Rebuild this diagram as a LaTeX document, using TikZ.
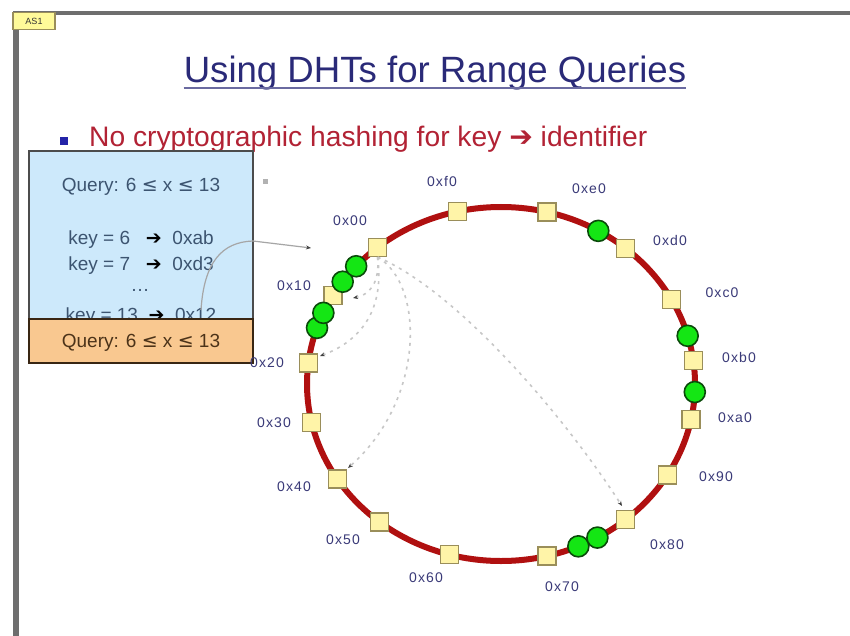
\documentclass[tikz,border=0pt]{standalone}
\usepackage{fontspec}
\setmainfont{Liberation Sans}
\newfontfamily\sym{DejaVu Sans}
\usetikzlibrary{arrows.meta,calc}
\definecolor{ringred}{HTML}{B01010}
\definecolor{sqfill}{HTML}{FFF4A8}
\definecolor{sqdraw}{HTML}{9A8E5A}
\definecolor{grfill}{HTML}{14E614}
\definecolor{grdraw}{HTML}{0A4A0A}
\definecolor{titlecol}{HTML}{2A2A78}
\definecolor{bulletred}{HTML}{B22234}
\definecolor{bulletblue}{HTML}{2424A8}
\definecolor{boxblue}{HTML}{CDE9FB}
\definecolor{boxorange}{HTML}{F9C890}
\definecolor{boxtext}{HTML}{3C5470}
\definecolor{lblcol}{HTML}{3A3A78}
\definecolor{framegray}{HTML}{6E6E6E}
\tikzset{
  sq/.style={draw=sqdraw,fill=sqfill,line width=1.4pt,minimum size=18pt,inner sep=0pt},
  gr/.style={circle,draw=grdraw,fill=grfill,line width=1.6pt,minimum size=21pt,inner sep=0pt},
  lbl/.style={text=lblcol,font=\fontsize{14}{14}\selectfont\addfontfeature{LetterSpace=8}},
  ring/.style={draw=ringred,line width=6pt},
  dotln/.style={draw=black!22,line width=1.6pt,dash pattern=on 3pt off 5pt,-{Stealth[length=5pt,width=4pt,color=black!75]}},
  boxln/.style={draw=black!35,line width=1.2pt,-{Stealth[length=5pt,width=4pt,color=black!75]}},
  btxt/.style={text=boxtext,font=\fontsize{19}{19}\selectfont,inner sep=0pt,anchor=base}
}
\begin{document}
\begin{tikzpicture}[x=1pt,y=-1pt]
\useasboundingbox (0,0) rectangle (850,636);
\fill[white] (0,0) rectangle (850,636);
% frame
\draw[framegray,line width=4pt] (15,13) -- (850,13);
\draw[framegray,line width=6pt] (16,11) -- (16,636);
\node[draw=sqdraw,fill=yellow!40,line width=1.2pt,minimum width=42pt,minimum height=17pt,inner sep=0pt,font=\fontsize{9}{9}\selectfont,text=black!80] (tag) at (34,21) {AS1};
% title
\node[text=titlecol,font=\fontsize{36.6}{36.6}\selectfont,inner sep=0pt,anchor=base] (title) at (435,83) {Using DHTs for Range Queries};
\draw[titlecol!70,line width=2pt] ($(title.base west)+(0,5)$) -- ($(title.base east)+(0,5)$);
% bullet
\node[fill=bulletblue,minimum size=8pt,inner sep=0pt] (bul) at (64,141) {};
\node[text=bulletred,font=\fontsize{28.2}{28.2}\selectfont,inner sep=0pt,anchor=base west] (btext) at (89,147) {No cryptographic hashing for key {\sym\bfseries ➔} identifier};
% ring
\draw[ring] (501,384) ellipse [x radius=194, y radius=177];
% dotted lookups
\coordinate (c10) at (353,298);
\coordinate (c20) at (320,356);
\coordinate (c40) at (348,468);
\coordinate (c80) at (622,506);
% nodes
\foreach \n/\a in {00/129.5,f0/103,e0/76.3,d0/50,c0/28.5,b0/7.7,a0/-11.6,90/-31,80/-50,70/-76.3,60/-105.4,50/231.3,40/212.5,30/192.5,20/173.2,10/150}
  \node[sq] (n\n) at ({501+194*cos(\a)},{384-177*sin(\a)}) {};
\draw[dotln] (n00.south) .. controls (380,285) and (368,295) .. (c10);
\draw[dotln] (n00.south) .. controls (386,320) and (350,345) .. (c20);
\draw[dotln] (n00.south) .. controls (425,285) and (425,400) .. (c40);
\draw[dotln] (n00.south) .. controls (455,290) and (560,410) .. (c80);
% green peers
\foreach \i/\a in {2/144.7,1/138.3,4/161.5,3/156.3,5/59.9,6/15.8,7/-2.6,8/-66.5,9/-60.2}
  \node[gr] (g\i) at ({501+194*cos(\a)},{384-177*sin(\a)}) {};
% query box
\node[draw=black!70,fill=boxblue,line width=2pt,minimum width=224pt,minimum height=180pt,inner sep=0pt,anchor=north west] (qbox) at (28,150) {};
\node[btxt] (q1) at (141,192) {Query: 6 {\sym ≤} x {\sym ≤} 13};
\node[btxt] (k6) at (141,244) {key = 6 \ \ {\sym\bfseries\color{black}➔}\ \ 0xab};
\node[btxt] (k7) at (141,270) {key = 7 \ \ {\sym\bfseries\color{black}➔}\ \ 0xd3};
\node[btxt] (dots) at (140,291) {…};
\node[btxt] (k13) at (141,321) {key = 13 \ {\sym\bfseries\color{black}➔}\ \ 0x12};
\node[draw=black!70!brown,fill=boxorange,line width=2pt,minimum width=224pt,minimum height=44pt,inner sep=0pt,anchor=north west] (obox) at (28,318) {};
\node[btxt,text=black!60!brown] (q2) at (141,347) {Query: 6 {\sym ≤} x {\sym ≤} 13};
\coordinate (bs) at (201,310);
\coordinate (be) at (311,248);
\draw[boxln] (bs) .. controls (204,262) and (222,242) .. (253,241) -- (be);
\fill[black!30] (263,179) rectangle (268,184);
% labels
\node[lbl] (l00) at (350,221) {0x00};
\node[lbl] (lf0) at (442,182) {0xf0};
\node[lbl] (le0) at (589,189) {0xe0};
\node[lbl] (ld0) at (670,240) {0xd0};
\node[lbl] (lc0) at (722,293) {0xc0};
\node[lbl] (lb0) at (739,357) {0xb0};
\node[lbl] (la0) at (735,418) {0xa0};
\node[lbl] (l90) at (716,477) {0x90};
\node[lbl] (l80) at (667,545) {0x80};
\node[lbl] (l70) at (562,587) {0x70};
\node[lbl] (l60) at (426,578) {0x60};
\node[lbl] (l50) at (343,540) {0x50};
\node[lbl] (l40) at (294,487) {0x40};
\node[lbl] (l30) at (274,423) {0x30};
\node[lbl] (l20) at (267,363) {0x20};
\node[lbl] (l10) at (294,286) {0x10};
\end{tikzpicture}
\end{document}
